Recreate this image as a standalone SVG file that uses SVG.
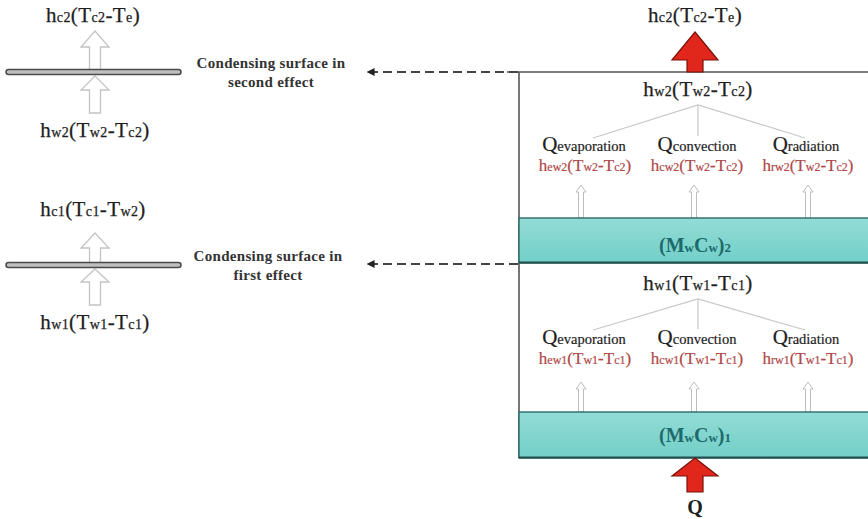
<svg xmlns="http://www.w3.org/2000/svg" width="868" height="519" viewBox="0 0 868 519">
  <defs>
    <style>
      .f { font-family: "Liberation Serif", "DejaVu Serif", serif; fill: #1e1e1e; }
      .big { font-size: 21px; letter-spacing: 0.4px; stroke: #1e1e1e; stroke-width: 0.25; }
      .sub { font-size: 14px; }
      .cap { font-size: 15px; font-weight: bold; fill: #333; letter-spacing: 0.3px; }
      .q { font-size: 21px; }
      .qs { font-size: 14.5px; }
      .qline { stroke: #1e1e1e; stroke-width: 0.2; }
      .red { font-size: 17px; fill: #b04848; stroke: #b04848; stroke-width: 0.2; }
      .rsub { font-size: 12px; }
      .teal { font-size: 20px; fill: #1c6a6a; font-weight: bold; }
      .tsub { font-size: 13px; }
      .hollow { fill: #ffffff; stroke: #c4c4c4; stroke-width: 1.3; }
      .thin { fill: #ffffff; stroke: #bdbdbd; stroke-width: 1; }
      .hot { fill: #e1261b; stroke: #7a1208; stroke-width: 1.2; }
      .plate { fill: #c0c0c0; stroke: #4a4a4a; stroke-width: 1.5; }
      .frame { stroke: #555; stroke-width: 1.6; fill: none; }
      .branch { stroke: #c8c8c8; stroke-width: 1.2; fill: none; }
      .dash { stroke: #444; stroke-width: 2; stroke-dasharray: 9 5; fill: none; }
      .water { fill: url(#waterFill); stroke: #2c6c6a; stroke-width: 1.4; }
    </style>
    <linearGradient id="waterFill" x1="0" y1="0" x2="0" y2="1">
      <stop offset="0" stop-color="#93dcd6"/>
      <stop offset="1" stop-color="#72cfc8"/>
    </linearGradient>
    <marker id="headL" viewBox="0 0 10 10" refX="2" refY="5" markerWidth="4" markerHeight="4" orient="auto-start-reverse">
      <path d="M0,0 L10,5 L0,10 Z" fill="#222"/>
    </marker>
  </defs>

  <!-- Left: condensing surface, second effect -->
  <g id="surface2">
    <text class="f big" x="93" y="22" text-anchor="middle">h<tspan class="sub">c2</tspan>(T<tspan class="sub">c2</tspan>-T<tspan class="sub">e</tspan>)</text>
    <polygon class="hollow" points="95,31 109,47 100.5,47 100.5,71 89.5,71 89.5,47 81,47"/>
    <polygon class="hollow" points="95,76 109,90 100.5,90 100.5,113 89.5,113 89.5,90 81,90"/>
    <rect class="plate" x="6" y="69.5" width="175" height="5" rx="2.5"/>
    <text class="f big" x="95" y="137" text-anchor="middle">h<tspan class="sub">w2</tspan>(T<tspan class="sub">w2</tspan>-T<tspan class="sub">c2</tspan>)</text>
    <text class="f cap" x="271" y="68" text-anchor="middle">Condensing surface in</text>
    <text class="f cap" x="271" y="87" text-anchor="middle">second effect</text>
  </g>

  <!-- Left: condensing surface, first effect -->
  <g id="surface1">
    <text class="f big" x="93" y="216" text-anchor="middle">h<tspan class="sub">c1</tspan>(T<tspan class="sub">c1</tspan>-T<tspan class="sub">w2</tspan>)</text>
    <polygon class="hollow" points="95,233 109,248 100.5,248 100.5,264 89.5,264 89.5,248 81,248"/>
    <polygon class="hollow" points="95,269 109,282 100.5,282 100.5,305 89.5,305 89.5,282 81,282"/>
    <rect class="plate" x="6" y="262.5" width="175" height="5" rx="2.5"/>
    <text class="f big" x="95" y="329" text-anchor="middle">h<tspan class="sub">w1</tspan>(T<tspan class="sub">w1</tspan>-T<tspan class="sub">c1</tspan>)</text>
    <text class="f cap" x="268" y="261" text-anchor="middle">Condensing surface in</text>
    <text class="f cap" x="268" y="280" text-anchor="middle">first effect</text>
  </g>

  <!-- Right: still housing -->
  <g id="housing">
    <line class="frame" x1="507" y1="72" x2="868" y2="72"/>
    <line class="frame" x1="519" y1="72" x2="519" y2="458"/>
  </g>

  <!-- Right: upper effect -->
  <g id="effect2">
    <polygon class="hot" points="695,32 718,60 703,60 703,72 687,72 687,60 672,60"/>
    <text class="f big" x="695" y="22" text-anchor="middle">h<tspan class="sub">c2</tspan>(T<tspan class="sub">c2</tspan>-T<tspan class="sub">e</tspan>)</text>
    <text class="f big" x="698" y="96" text-anchor="middle">h<tspan class="sub">w2</tspan>(T<tspan class="sub">w2</tspan>-T<tspan class="sub">c2</tspan>)</text>
    <path class="branch" d="M593,138 L698,105 L805,138 M698,105 L698,136"/>
    <text class="f qline" x="584" y="151" text-anchor="middle"><tspan class="q">Q</tspan><tspan class="qs">evaporation</tspan></text>
    <text class="f qline" x="697" y="151" text-anchor="middle"><tspan class="q">Q</tspan><tspan class="qs">convection</tspan></text>
    <text class="f qline" x="806" y="151" text-anchor="middle"><tspan class="q">Q</tspan><tspan class="qs">radiation</tspan></text>
    <text class="f red" x="585" y="171" text-anchor="middle">h<tspan class="rsub">ew2</tspan>(T<tspan class="rsub">w2</tspan>-T<tspan class="rsub">c2</tspan>)</text>
    <text class="f red" x="697" y="171" text-anchor="middle">h<tspan class="rsub">cw2</tspan>(T<tspan class="rsub">w2</tspan>-T<tspan class="rsub">c2</tspan>)</text>
    <text class="f red" x="808" y="171" text-anchor="middle">h<tspan class="rsub">rw2</tspan>(T<tspan class="rsub">w2</tspan>-T<tspan class="rsub">c2</tspan>)</text>
    <polygon class="thin" points="581,185 586,192 583.5,192 583.5,218 578.5,218 578.5,192 576,192"/>
    <polygon class="thin" points="694,185 699,192 696.5,192 696.5,218 691.5,218 691.5,192 689,192"/>
    <polygon class="thin" points="808,185 813,192 810.5,192 810.5,218 805.5,218 805.5,192 803,192"/>
    <rect class="water" x="519" y="218" width="352" height="45"/>
    <line x1="519" y1="262.5" x2="868" y2="262.5" stroke="#244f4e" stroke-width="2"/>
    <text class="f teal" x="695" y="252" text-anchor="middle">(M<tspan class="tsub">w</tspan>C<tspan class="tsub">w</tspan>)<tspan class="tsub">2</tspan></text>
  </g>

  <!-- Right: lower effect -->
  <g id="effect1">
    <text class="f big" x="698" y="290" text-anchor="middle">h<tspan class="sub">w1</tspan>(T<tspan class="sub">w1</tspan>-T<tspan class="sub">c1</tspan>)</text>
    <path class="branch" d="M593,330 L698,299 L805,330 M698,299 L698,329"/>
    <text class="f qline" x="584" y="344" text-anchor="middle"><tspan class="q">Q</tspan><tspan class="qs">evaporation</tspan></text>
    <text class="f qline" x="697" y="344" text-anchor="middle"><tspan class="q">Q</tspan><tspan class="qs">convection</tspan></text>
    <text class="f qline" x="806" y="344" text-anchor="middle"><tspan class="q">Q</tspan><tspan class="qs">radiation</tspan></text>
    <text class="f red" x="585" y="364" text-anchor="middle">h<tspan class="rsub">ew1</tspan>(T<tspan class="rsub">w1</tspan>-T<tspan class="rsub">c1</tspan>)</text>
    <text class="f red" x="697" y="364" text-anchor="middle">h<tspan class="rsub">cw1</tspan>(T<tspan class="rsub">w1</tspan>-T<tspan class="rsub">c1</tspan>)</text>
    <text class="f red" x="808" y="364" text-anchor="middle">h<tspan class="rsub">rw1</tspan>(T<tspan class="rsub">w1</tspan>-T<tspan class="rsub">c1</tspan>)</text>
    <polygon class="thin" points="581,382 586,389 583.5,389 583.5,412 578.5,412 578.5,389 576,389"/>
    <polygon class="thin" points="694,382 699,389 696.5,389 696.5,412 691.5,412 691.5,389 689,389"/>
    <polygon class="thin" points="808,382 813,389 810.5,389 810.5,412 805.5,412 805.5,389 803,389"/>
    <rect class="water" x="519" y="412" width="352" height="46"/>
    <line x1="519" y1="457.5" x2="868" y2="457.5" stroke="#244f4e" stroke-width="2"/>
    <text class="f teal" x="695" y="442" text-anchor="middle">(M<tspan class="tsub">w</tspan>C<tspan class="tsub">w</tspan>)<tspan class="tsub">1</tspan></text>
  </g>

  <!-- Heat input -->
  <g id="heat-in">
    <polygon class="hot" points="695,458 718,476 703,476 703,492 687,492 687,476 672,476"/>
    <text class="f" x="695" y="514" text-anchor="middle" font-size="20" font-weight="bold">Q</text>
  </g>

  <!-- Connectors: each effect's cover to its condensing surface -->
  <g id="connectors">
    <line class="dash" x1="518" y1="72" x2="373" y2="72" marker-end="url(#headL)"/>
    <line class="dash" x1="518" y1="264" x2="373" y2="264" marker-end="url(#headL)"/>
  </g>
</svg>
